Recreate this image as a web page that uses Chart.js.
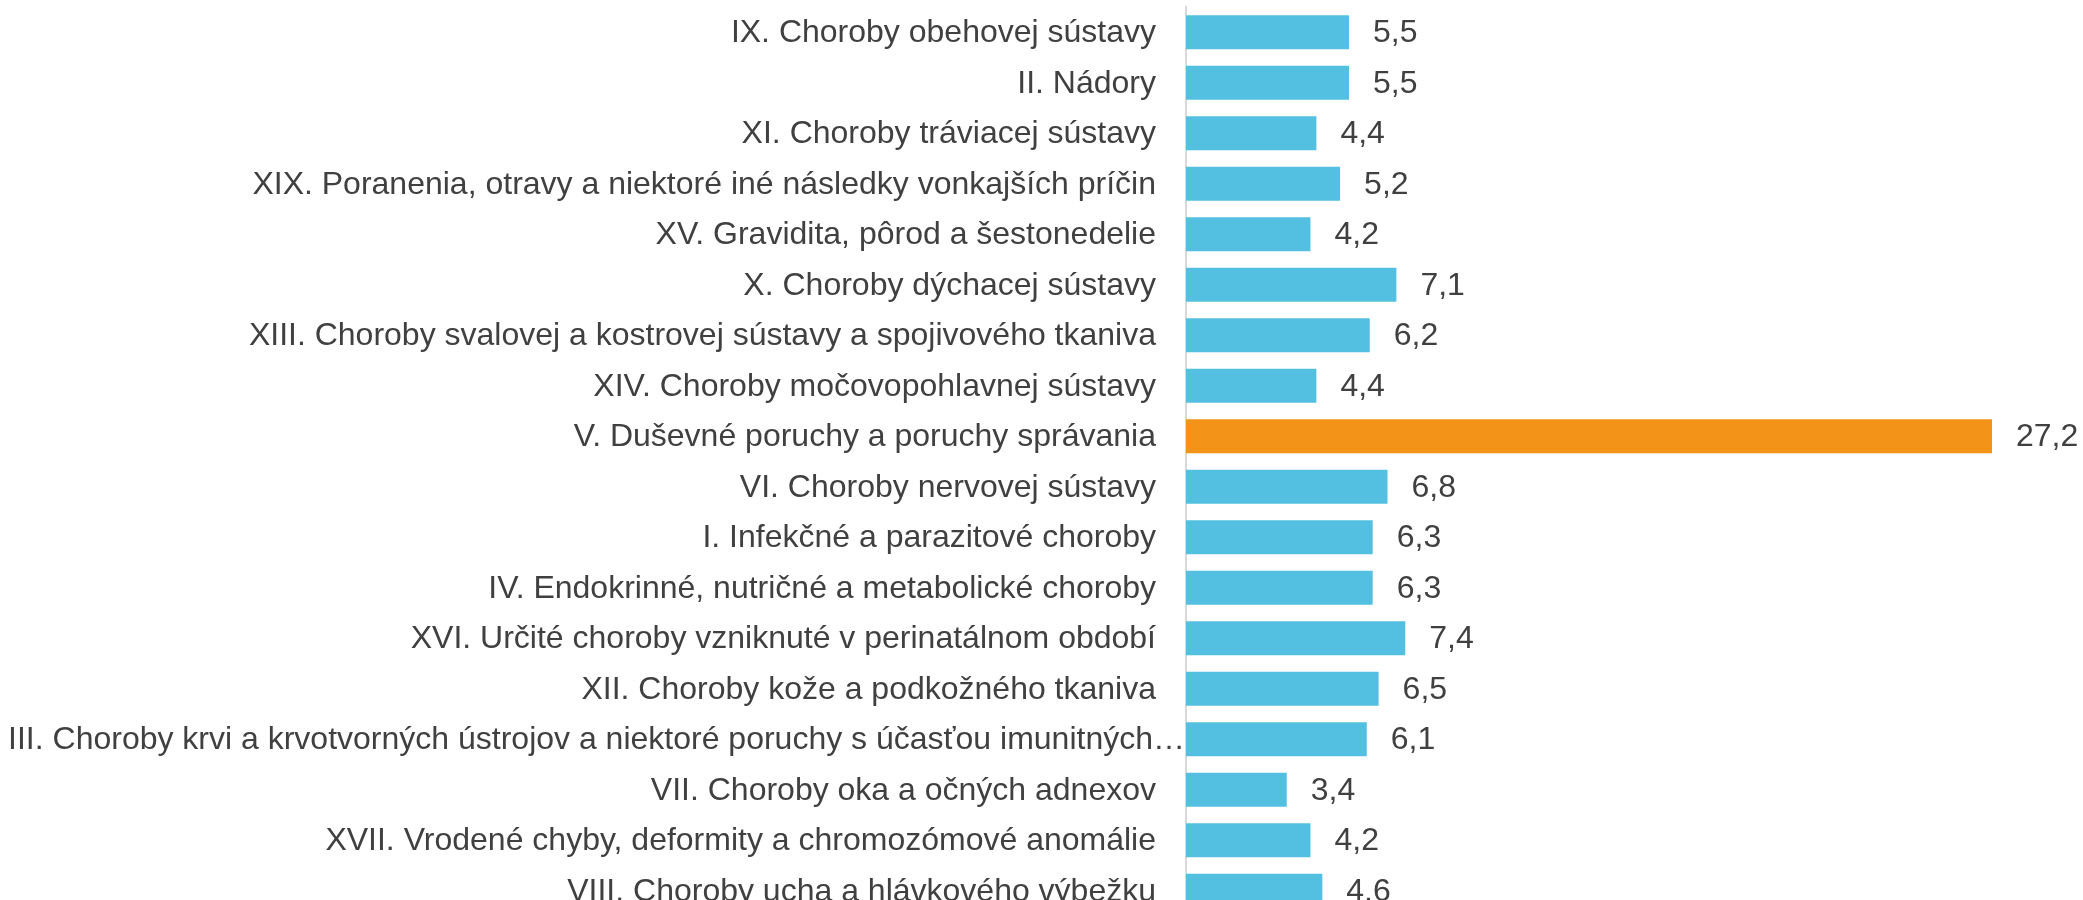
<!DOCTYPE html>
<html>
<head>
<meta charset="utf-8">
<script src="https://cdn.jsdelivr.net/npm/chart.js@4.4.0/dist/chart.umd.min.js"></script>
<style>
  html, body { margin: 0; padding: 0; background: #fff; overflow: hidden; }
  #wrap { width: 2083px; height: 920px; position: relative; }
</style>
</head>
<body>
<div id="wrap"><canvas id="chart"></canvas></div>
<script>
const categories = [
    'IX. Choroby obehovej sústavy',
    'II. Nádory',
    'XI. Choroby tráviacej sústavy',
    'XIX. Poranenia, otravy a niektoré iné následky vonkajších príčin',
    'XV. Gravidita, pôrod a šestonedelie',
    'X. Choroby dýchacej sústavy',
    'XIII. Choroby svalovej a kostrovej sústavy a spojivového tkaniva',
    'XIV. Choroby močovopohlavnej sústavy',
    'V. Duševné poruchy a poruchy správania',
    'VI. Choroby nervovej sústavy',
    'I. Infekčné a parazitové choroby',
    'IV. Endokrinné, nutričné a metabolické choroby',
    'XVI. Určité choroby vzniknuté v perinatálnom období',
    'XII. Choroby kože a podkožného tkaniva',
    'III. Choroby krvi a krvotvorných ústrojov a niektoré poruchy s účasťou imunitných…',
    'VII. Choroby oka a očných adnexov',
    'XVII. Vrodené chyby, deformity a chromozómové anomálie',
    'VIII. Choroby ucha a hlávkového výbežku'
];
const values = [5.5, 5.5, 4.4, 5.2, 4.2, 7.1, 6.2, 4.4, 27.2, 6.8, 6.3, 6.3, 7.4, 6.5, 6.1, 3.4, 4.2, 4.6];
const highlight = 'V. Duševné poruchy a poruchy správania';

const blue = '#53bfe1';
const orange = '#f39318';
const textColor = '#404040';
const font = { family: '"Liberation Sans", Arial, sans-serif', size: 32 };

// category labels + value labels drawn by hand (per-label gap for the truncated one)
const labelPlugin = {
    id: 'labels',
    afterDatasetsDraw(chart) {
        const ctx = chart.ctx;
        const meta = chart.getDatasetMeta(0);
        const left = chart.chartArea.left;
        ctx.save();
        ctx.font = font.size + 'px ' + font.family;
        ctx.fillStyle = textColor;
        ctx.textBaseline = 'middle';
        meta.data.forEach(function(bar, i) {
            const name = categories[i];
            ctx.textAlign = 'right';
            const gap = name.endsWith('…') ? 1 : 30;
            ctx.fillText(name, left - gap, bar.y + 1);
            ctx.textAlign = 'left';
            ctx.fillText(values[i].toFixed(1).replace('.', ','), bar.x + 24, bar.y + 1);
        });
        ctx.restore();
    }
};

new Chart(document.getElementById('chart'), {
    type: 'bar',
    data: {
        labels: categories,
        datasets: [{
            data: values,
            backgroundColor: categories.map(c => c === highlight ? orange : blue),
            barPercentage: 0.67,
            categoryPercentage: 1
        }]
    },
    options: {
        indexAxis: 'y',
        responsive: true,
        maintainAspectRatio: false,
        animation: false,
        layout: { padding: { left: 1178, right: 8, top: 7, bottom: 4 } },
        plugins: {
            legend: { display: false },
            tooltip: { enabled: false }
        },
        scales: {
            x: { display: false, min: 0, max: 30 },
            y: {
                ticks: { display: false },
                grid: { display: false },
                border: { display: true, color: '#d9d9d9', width: 2 }
            }
        }
    },
    plugins: [labelPlugin]
});
</script>
</body>
</html>
